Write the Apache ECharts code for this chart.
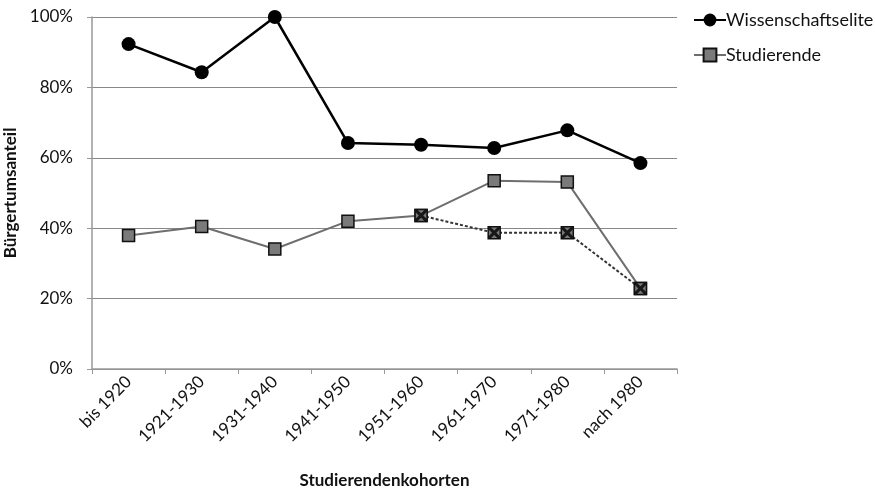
<!DOCTYPE html>
<html>
<head>
<meta charset="utf-8">
<script src="https://cdn.jsdelivr.net/npm/echarts@6/dist/echarts.min.js"></script>
<style>
  html, body { margin: 0; padding: 0; background: #fff; }
  #chart { width: 875px; height: 488px; }
</style>
</head>
<body>
<div id="chart"></div>
<script>
const categories = ['bis 1920', '1921-1930', '1931-1940', '1941-1950', '1951-1960', '1961-1970', '1971-1980', 'nach 1980']
const elite = [92.3, 84.3, 100, 64.2, 63.7, 62.8, 67.8, 58.5]
const studierende = [37.9, 40.5, 34.1, 42.0, 43.6, 53.5, 53.1, 22.9]
const studierendeAlt = [null, null, null, null, 43.6, 38.7, 38.7, 22.9]
const yTicks = [0, 20, 40, 60, 80, 100]

const font = 'Lato'
const xPath = 'path://M0,0 L2,0 L5,3 L8,0 L10,0 L10,2 L7,5 L10,8 L10,10 L8,10 L5,7 L2,10 L0,10 L0,8 L3,5 L0,2 Z'

const myChart = echarts.init(document.getElementById('chart'))
const option = {
  animation: false,
  textStyle: { fontFamily: font },
  legend: {
    orient: 'vertical',
    left: 688,
    top: 6,
    itemWidth: 32,
    itemHeight: 16,
    itemGap: 17,
    data: ['Wissenschaftselite', 'Studierende'],
    textStyle: { fontFamily: font, fontSize: 18, color: '#111', padding: [0, 0, 0, -5] }
  },
  grid: { left: 92, right: 198, top: 17, bottom: 119, outerBoundsMode: 'none' },
  xAxis: {
    type: 'category',
    data: categories,
    boundaryGap: true,
    name: 'Studierendenkohorten',
    nameLocation: 'middle',
    nameGap: 103,
    nameTextStyle: { fontFamily: font, fontSize: 17, fontWeight: 'bold', color: '#111' },
    axisLine: { lineStyle: { color: '#999', width: 1.5 } },
    axisTick: { show: true, length: 5, lineStyle: { color: '#999' } },
    axisLabel: { rotate: 45, fontSize: 17, color: '#111', margin: 10, interval: 0 }
  },
  yAxis: {
    type: 'value',
    min: yTicks[0],
    max: yTicks[yTicks.length - 1],
    interval: 20,
    name: 'Bürgertumsanteil',
    nameLocation: 'middle',
    nameGap: 72,
    nameTextStyle: { fontFamily: font, fontSize: 17, fontWeight: 'bold', color: '#111' },
    axisLine: { show: true, lineStyle: { color: '#999', width: 1.5 } },
    axisTick: { show: true, length: 5, lineStyle: { color: '#999' } },
    axisLabel: { formatter: '{value}%', fontSize: 17, color: '#111', margin: 19 },
    splitLine: { lineStyle: { color: '#888', width: 1.2 } }
  },
  series: [
    {
      name: 'Wissenschaftselite',
      type: 'line',
      data: elite,
      symbol: 'circle',
      symbolSize: 14,
      lineStyle: { color: '#000', width: 2.5 },
      itemStyle: { color: '#000' },
      z: 4
    },
    {
      name: 'Studierende',
      type: 'line',
      data: studierende,
      symbol: 'rect',
      symbolSize: 12,
      lineStyle: { color: '#6e6e6e', width: 2 },
      itemStyle: { color: '#7a7a7a', borderColor: '#111', borderWidth: 1.5 },
      z: 3
    },
    {
      name: 'alt',
      type: 'line',
      data: studierendeAlt,
      symbol: 'rect',
      symbolSize: 12,
      lineStyle: { color: '#333', width: 2, type: [3, 2] },
      itemStyle: { color: '#7a7a7a', borderColor: '#111', borderWidth: 1.5 },
      z: 5
    },
    {
      name: 'altX',
      type: 'scatter',
      data: studierendeAlt,
      symbol: xPath,
      symbolSize: 11,
      itemStyle: { color: '#000' },
      z: 6
    }
  ]
}
myChart.setOption(option)
</script>
</body>
</html>
